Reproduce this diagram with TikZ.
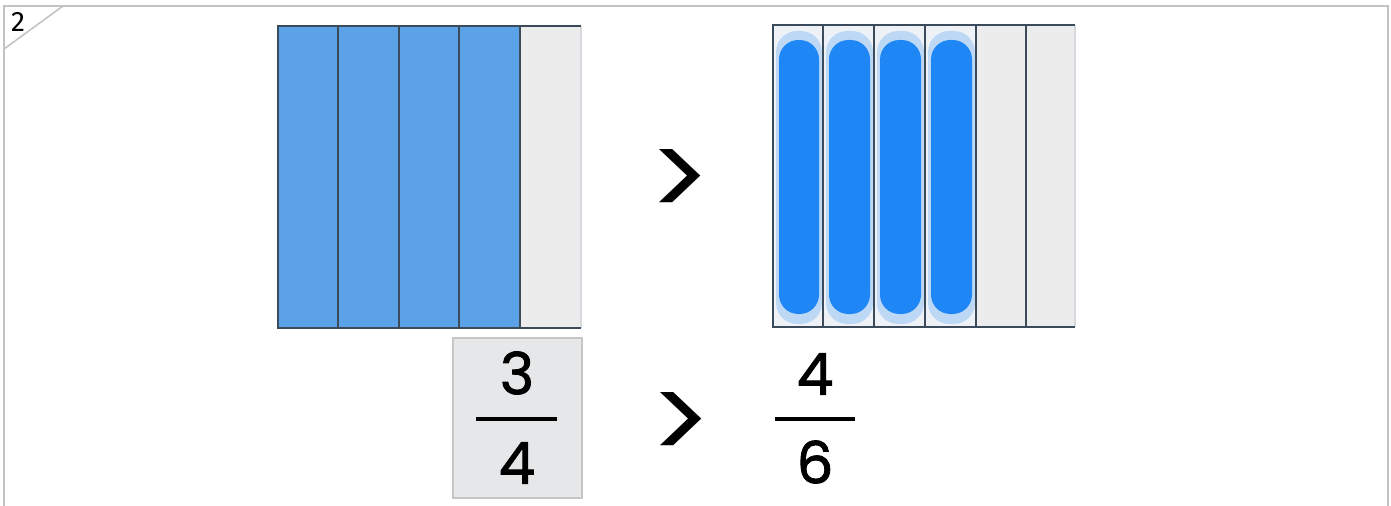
\documentclass[tikz,border=0pt]{standalone}
\usepackage{fontspec}
\setmainfont{Poppins}
\newfontfamily\cornerfont{Fira Sans}
\definecolor{framegray}{HTML}{C3C3C3}
\definecolor{barblue}{HTML}{5BA3E6}
\definecolor{divline}{HTML}{3C4B5C}
\definecolor{emptygray}{HTML}{ECECEC}
\definecolor{edgegray}{HTML}{D6D9DD}
\definecolor{paleback}{HTML}{EEF2F7}
\definecolor{inkblue}{HTML}{1E86F5}
\definecolor{haloblue}{HTML}{9CC8F4}
\definecolor{boxgray}{HTML}{E6E7E8}
\definecolor{boxline}{HTML}{C6C6C6}
\tikzset{
  divider/.style={divline,line width=1.3pt},
  scribble/.style={fill=inkblue,draw=none,rounded corners=11pt},
  halo/.style={fill=haloblue,draw=none,rounded corners=12pt,opacity=0.6},
  bignum/.style={inner sep=0pt,font=\fontsize{33}{33}\selectfont\addfontfeature{FakeBold=1.5}},
  relsign/.style={inner sep=0pt,font=\fontsize{66}{66}\selectfont}
}
\begin{document}
\begin{tikzpicture}[x=0.02cm,y=-0.02cm]
\useasboundingbox (0,0) rectangle (1391,506);

% frame and task number
\draw[framegray,line width=1.3pt] (4,506)--(4,6)--(1388,6)--(1388,506);
\draw[framegray,line width=0.9pt] (4,49)--(63,6);
\node[inner sep=0pt] (tasknr) at (18,22) {\cornerfont\fontsize{16}{16}\selectfont 2};

% left bar: five parts
\draw[fill=barblue,draw=none] (278,26) rectangle (520,328);
\draw[fill=emptygray,draw=none] (520,26) rectangle (581,328);
\draw[edgegray,line width=1.3pt] (581,26)--(581,328);
\draw[divider] (581,26)--(278,26)--(278,328)--(581,328);
\draw[divider] (338,26)--(338,328);
\draw[divider] (399,26)--(399,328);
\draw[divider] (459,26)--(459,328);
\draw[divider] (520,26)--(520,328);

% right bar: six parts, four coloured by hand
\draw[fill=paleback,draw=none] (773,25) rectangle (975,327);
\draw[fill=emptygray,draw=none] (975,25) rectangle (1075,327);

\draw[halo] (776,31) rectangle (822,324);
\draw[halo] (826,31) rectangle (873,324);
\draw[halo] (877,31) rectangle (924,324);
\draw[halo] (928,31) rectangle (975,324);
\draw[scribble] (779,40) rectangle (819,314);
\draw[scribble] (829,40) rectangle (870,314);
\draw[scribble] (880,40) rectangle (921,314);
\draw[scribble] (931,40) rectangle (972,314);

\draw[edgegray,line width=1.3pt] (1075,25)--(1075,327);
\draw[divider] (1075,25)--(773,25)--(773,327)--(1075,327);
\draw[divider] (823,25)--(823,327);
\draw[divider] (874,25)--(874,327);
\draw[divider] (925,25)--(925,327);
\draw[divider] (976,25)--(976,327);
\draw[divider] (1026,25)--(1026,327);

\node[relsign] (gttop) at (680,184) {>};

% fractions
\draw[fill=boxgray,draw=boxline,line width=1.2pt] (453,338) rectangle (582,498);
\node[bignum] (numl) at (517,373) {3};
\node[bignum] (denl) at (517,463) {4};
\draw[line width=2.4pt] (476,419)--(557,419);

\node[relsign] (gtbot) at (681,427) {>};

\node[bignum] (numr) at (815,374) {4};
\node[bignum] (denr) at (815,462) {6};
\draw[line width=2.4pt] (775,419)--(855,419);

\end{tikzpicture}
\end{document}
